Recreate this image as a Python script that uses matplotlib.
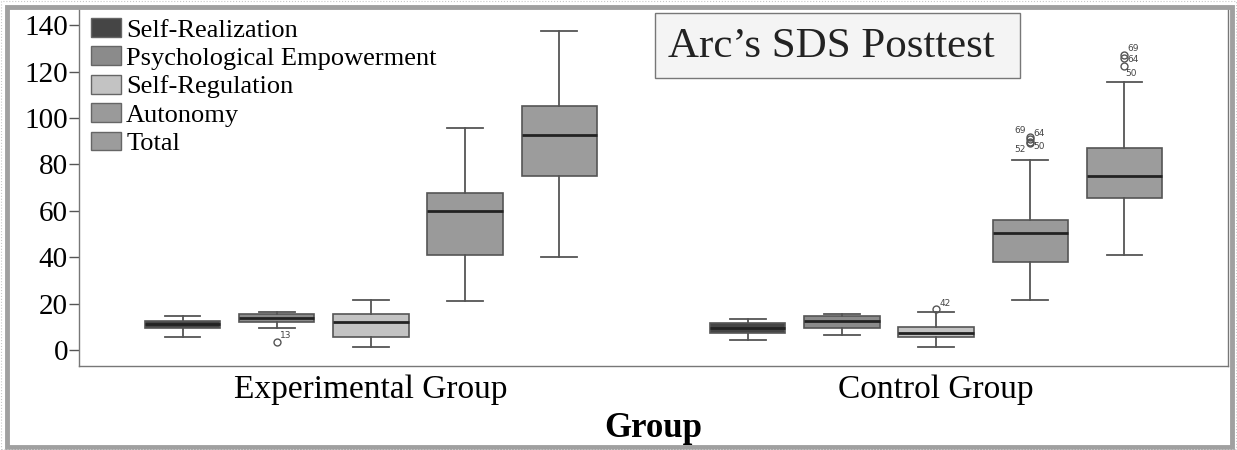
import numpy as np
import matplotlib.pyplot as plt
from matplotlib.patches import Rectangle, Patch

plt.rcParams['font.family'] = ['Liberation Serif', 'DejaVu Serif']

groups = ["Experimental Group", "Control Group"]
subscales = ["Self-Realization", "Psychological Empowerment", "Self-Regulation", "Autonomy", "Total"]
box_colors = ["#454545", "#8b8b8b", "#c3c3c3", "#9a9a9a", "#9c9c9c"]

# box stats, one value per subscale
exp_lo  = [5.5, 9.5, 1.5, 21, 40]
exp_q1  = [9.5, 12.2, 5.5, 41, 75]
exp_med = [11, 14, 12, 60, 92.5]
exp_q3  = [12.5, 15.5, 15.5, 67.5, 105]
exp_hi  = [14.5, 16.5, 21.5, 95.5, 137.5]

ctl_lo  = [4.5, 6.5, 1.5, 21.5, 41]
ctl_q1  = [7.5, 9.5, 5.5, 38, 65.5]
ctl_med = [9.5, 12.5, 7.5, 50.5, 75]
ctl_q3  = [11.8, 14.7, 10, 56, 87]
ctl_hi  = [13.5, 15.5, 16.5, 82, 115.5]

# outliers and their case numbers
exp_out = [[], [3.5], [], [], []]
exp_ids = [[], ["13"], [], [], []]
ctl_out = [[], [], [17.5], [92, 91, 89.5, 89], [127, 126, 122.5]]
ctl_ids = [[], [], ["42"], ["69", "64", "52", "50"], ["69", "64", "50"]]

# where the case numbers sit next to their circle (points)
exp_id_off = [[], [(6.5, 4.8)], [], [], []]
ctl_id_off = [[], [], [(6.5, 4.3)],
              [(-7, 4), (6.5, 4.2), (-7.5, -5.5), (6.5, -2.5)],
              [(6.5, 4.6), (6.5, -1), (5, -5.8)]]

fig = plt.figure(figsize=(12.37, 4.5), dpi=100)
W, H = 1237, 450
ax = fig.add_axes([79 / W, 1 - 366 / H, (1228 - 79) / W, (366 - 8) / H])

stats = []
positions = []
for g, (lo, q1, med, q3, hi, out) in enumerate([
        (exp_lo, exp_q1, exp_med, exp_q3, exp_hi, exp_out),
        (ctl_lo, ctl_q1, ctl_med, ctl_q3, ctl_hi, ctl_out)]):
    for k in range(len(subscales)):
        stats.append(dict(whislo=lo[k], q1=q1[k], med=med[k], q3=q3[k],
                          whishi=hi[k], fliers=out[k]))
        positions.append(g * 6 + k)

bp = ax.bxp(stats, positions=positions, widths=0.8, capwidths=0.38,
            patch_artist=True, showfliers=True,
            boxprops=dict(edgecolor="#555555", linewidth=1.2),
            medianprops=dict(color="#222222", linewidth=2),
            whiskerprops=dict(color="#555555", linewidth=1.3),
            capprops=dict(color="#555555", linewidth=1.3),
            flierprops=dict(marker="o", markerfacecolor="none",
                            markeredgecolor="#555555", markersize=5,
                            markeredgewidth=1))
for i, box in enumerate(bp["boxes"]):
    box.set_facecolor(box_colors[i % 5])

# case number labels
for g, (out, ids, offs) in enumerate([(exp_out, exp_ids, exp_id_off),
                                      (ctl_out, ctl_ids, ctl_id_off)]):
    for k in range(len(subscales)):
        for v, lab, off in zip(out[k], ids[k], offs[k]):
            ax.annotate(lab, (g * 6 + k, v), xytext=off, textcoords="offset points",
                        ha="center", va="center", fontsize=6.5,
                        family="DejaVu Sans", color="#444444")

ax.set_xlim(-1.1, 11.1)
ax.set_ylim(-6.9, 147.4)
ax.set_yticks(np.arange(0, 141, 20))
ax.set_xticks([2, 8])
ax.set_xticklabels(groups, fontsize=24)
ax.tick_params(axis="x", length=0, pad=6)
ax.tick_params(axis="y", labelsize=21, length=7, width=1, color="#555555", pad=1)
ax.set_xlabel("Group", fontsize=25, fontweight="bold", labelpad=5)
for s in ["left", "bottom", "right"]:
    ax.spines[s].set_color("#777777")
    ax.spines[s].set_linewidth(1)
ax.spines["top"].set_visible(False)

handles = [Patch(facecolor=c, edgecolor="#666666", linewidth=1) for c in box_colors]
ax.legend(handles, subscales, loc="upper left", bbox_to_anchor=(12 / 1149, 1 - 10 / 358),
          frameon=False, fontsize=19, labelspacing=0.18, handlelength=1.15,
          handleheight=0.72, handletextpad=0.18, borderpad=0, borderaxespad=0)

# title box
fig.patches.append(Rectangle((655 / W, 1 - 78 / H), (1020 - 655) / W, (78 - 13) / H,
                             transform=fig.transFigure, facecolor="#f4f4f4",
                             edgecolor="#777777", linewidth=1, zorder=5))
fig.text(831 / W, 1 - 47 / H, "Arc\u2019s SDS Posttest", fontsize=31,
         ha="center", va="center", color="#222222", zorder=6)

# outer frame
fig.patches.append(Rectangle((6.5 / W, 3 / H), (1231.5 - 6.5) / W, (443.5 - 3) / H,
                             transform=fig.transFigure, facecolor="none",
                             edgecolor="#a0a0a0", linewidth=3.5, zorder=0))
fig.patches.append(Rectangle((1 / W, 1 / H), (W - 2) / W, (H - 2) / H,
                             transform=fig.transFigure, facecolor="none",
                             edgecolor="#c8c8c8", linewidth=0.8, linestyle=":", zorder=0))

fig.savefig("out.png", dpi=100)
